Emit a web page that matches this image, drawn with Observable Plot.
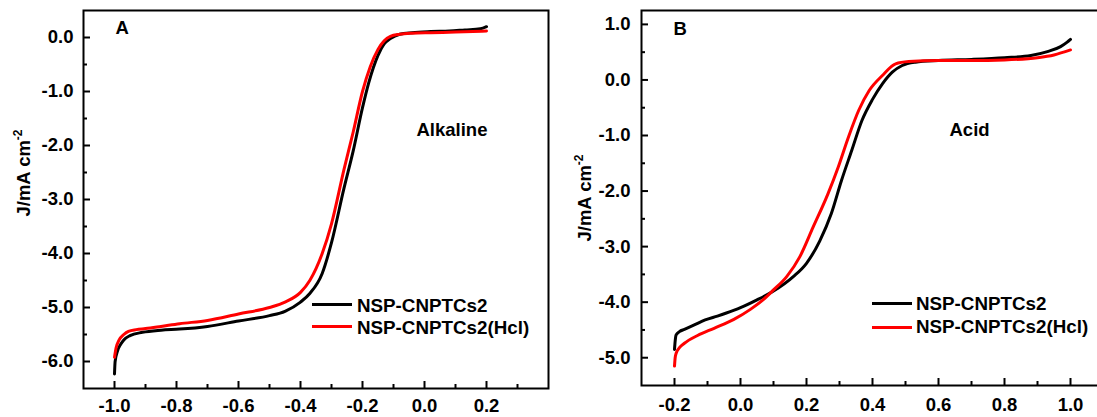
<!DOCTYPE html>
<html>
<head>
<meta charset="utf-8">
<script src="https://cdn.jsdelivr.net/npm/d3@7"></script>
<script src="https://cdn.jsdelivr.net/npm/@observablehq/plot@0.6"></script>
<style>
html, body { margin: 0; padding: 0; background: #fff; overflow: hidden; width: 1097px; height: 417px; }
#wrap { position: relative; width: 1097px; height: 417px; overflow: hidden; font-family: "Liberation Sans", Arial, sans-serif; font-weight: bold; color: #000; }
.panel { position: absolute; top: 0; }
.row { position: absolute; height: 20px; line-height: 20px; display: flex; align-items: center; font-size: 18.8px; white-space: nowrap; }
.sw { display: inline-block; width: 40px; height: 3px; margin-right: 5px; }
</style>
</head>
<body>
<div id="wrap">
  <div class="panel" id="pa" style="left:0px;width:560px;"></div>
  <div class="panel" id="pb" style="left:560px;width:550px;"></div>
  <div class="row" style="left:312px;top:296px;"><span class="sw" style="background:#000;transform:translateY(-2px)"></span><span>NSP-CNPTCs2</span></div>
  <div class="row" style="left:312px;top:318px;"><span class="sw" style="background:#ff0000;transform:translateY(-2px)"></span><span>NSP-CNPTCs2(Hcl)</span></div>
  <div class="row" style="left:872px;top:294px;"><span class="sw" style="background:#000;margin-right:4px;transform:translateY(-1px)"></span><span>NSP-CNPTCs2</span></div>
  <div class="row" style="left:872px;top:317px;"><span class="sw" style="background:#ff0000;margin-right:4px;"></span><span>NSP-CNPTCs2(Hcl)</span></div>
</div>
<script>
const seriesNames = ["NSP-CNPTCs2", "NSP-CNPTCs2(Hcl)"];
const yLabel = "J/mA cm";
const yLabelSup = "-2";

// ---------- Panel A (Alkaline) ----------
const blackA_x = [-1.0, -0.998, -0.99, -0.98, -0.97, -0.95, -0.91, -0.85, -0.79, -0.70, -0.60, -0.50, -0.45, -0.40, -0.37, -0.33, -0.30, -0.26, -0.23, -0.20, -0.18, -0.15, -0.13, -0.11, -0.08, -0.04, 0.02, 0.08, 0.13, 0.18, 0.2];
const blackA_y = [-6.23, -6.0, -5.8, -5.68, -5.6, -5.52, -5.46, -5.42, -5.40, -5.35, -5.25, -5.15, -5.07, -4.90, -4.74, -4.37, -3.80, -2.80, -2.10, -1.30, -0.84, -0.33, -0.12, -0.02, 0.06, 0.09, 0.11, 0.12, 0.14, 0.16, 0.2];
const redA_x = [-1.0, -0.995, -0.985, -0.97, -0.955, -0.93, -0.9, -0.85, -0.79, -0.70, -0.60, -0.50, -0.45, -0.40, -0.37, -0.33, -0.30, -0.26, -0.23, -0.20, -0.175, -0.15, -0.13, -0.11, -0.08, -0.04, 0.02, 0.1, 0.2];
const redA_y = [-5.92, -5.75, -5.6, -5.5, -5.44, -5.41, -5.39, -5.35, -5.30, -5.24, -5.12, -5.0, -4.9, -4.72, -4.5, -4.0, -3.45, -2.45, -1.75, -1.0, -0.54, -0.22, -0.06, 0.02, 0.06, 0.08, 0.09, 0.1, 0.12];
const xMajorA = [-1.0, -0.8, -0.6, -0.4, -0.2, 0.0, 0.2];
const xMinorA = [-0.9, -0.7, -0.5, -0.3, -0.1, 0.1, 0.3];
const yMajorA = [0, -1, -2, -3, -4, -5, -6];
const yMinorA = [-0.5, -1.5, -2.5, -3.5, -4.5, -5.5];

// ---------- Panel B (Acid) ----------
const blackB_x = [-0.2, -0.198, -0.195, -0.185, -0.17, -0.14, -0.107, -0.07, -0.045, 0.0, 0.05, 0.1, 0.16, 0.2, 0.24, 0.275, 0.306, 0.337, 0.368, 0.40, 0.43, 0.46, 0.49, 0.53, 0.6, 0.7, 0.8, 0.88, 0.93, 0.97, 0.99, 1.0];
const blackB_y = [-4.85, -4.7, -4.59, -4.53, -4.49, -4.41, -4.32, -4.25, -4.20, -4.10, -3.96, -3.80, -3.54, -3.30, -2.90, -2.41, -1.81, -1.27, -0.73, -0.35, -0.07, 0.14, 0.26, 0.32, 0.35, 0.37, 0.40, 0.44, 0.51, 0.60, 0.68, 0.73];
const redB_x = [-0.2, -0.198, -0.195, -0.185, -0.17, -0.13, -0.08, -0.02, 0.03, 0.07, 0.1, 0.14, 0.18, 0.22, 0.265, 0.296, 0.327, 0.358, 0.39, 0.43, 0.47, 0.51, 0.6, 0.7, 0.8, 0.9, 0.95, 1.0];
const redB_y = [-5.15, -5.0, -4.92, -4.82, -4.74, -4.6, -4.47, -4.31, -4.13, -3.95, -3.78, -3.54, -3.18, -2.65, -2.05, -1.57, -1.03, -0.55, -0.19, 0.08, 0.29, 0.33, 0.35, 0.35, 0.36, 0.40, 0.45, 0.54];
const xMajorB = [-0.2, 0.0, 0.2, 0.4, 0.6, 0.8, 1.0];
const xMinorB = [-0.1, 0.1, 0.3, 0.5, 0.7, 0.9, 1.1];
const yMajorB = [1, 0, -1, -2, -3, -4, -5];
const yMinorB = [0.5, -0.5, -1.5, -2.5, -3.5, -4.5];

const FONT = "'Liberation Sans', Arial, sans-serif";
const FS = 18.5;
const fmt = d => d.toFixed(1);
const zip = (xs, ys) => xs.map((x, i) => ({x, y: ys[i]}));

function panel(o) {
  const innerH = o.height - o.marginTop - o.marginBottom;
  const innerW = o.width - o.marginLeft - o.marginRight;
  const chart = Plot.plot({
    width: o.width, height: o.height,
    marginLeft: o.marginLeft, marginRight: o.marginRight, marginTop: o.marginTop, marginBottom: o.marginBottom,
    x: {domain: o.xDomain},
    y: {domain: o.yDomain},
    style: {fontFamily: FONT, fontSize: FS + "px", fontWeight: "bold", background: "transparent", color: "#000", overflow: "visible"},
    marks: [
      Plot.axisX(o.xMajor, {tickSize: 0, tickPadding: o.xPad, tickFormat: fmt, label: null, fontSize: FS, fontWeight: "bold"}),
      Plot.axisY(o.yMajor, {tickSize: 0, tickPadding: o.yPad, tickFormat: fmt, label: null, fontSize: FS, fontWeight: "bold"}),
      Plot.tickX(o.xMajor, {x: d => d, insetTop: innerH - 7, stroke: "#000", strokeWidth: 2}),
      Plot.tickX(o.xMinor, {x: d => d, insetTop: innerH - 4, stroke: "#000", strokeWidth: 2}),
      Plot.tickY(o.yMajor, {y: d => d, insetRight: innerW - 7, stroke: "#000", strokeWidth: 2}),
      Plot.tickY(o.yMinor, {y: d => d, insetRight: innerW - 4, stroke: "#000", strokeWidth: 2}),
      Plot.line(zip(o.bx, o.by), {x: "x", y: "y", stroke: "#000", strokeWidth: 3, curve: "monotone-x"}),
      Plot.line(zip(o.rx, o.ry), {x: "x", y: "y", stroke: "#ff0000", strokeWidth: 3, curve: "monotone-x"}),
      Plot.frame({stroke: "#000", strokeWidth: 2}),
      Plot.text([o.letter], {frameAnchor: "top-left", dx: o.letterDx, dy: o.letterDy, textAnchor: "start", lineAnchor: "middle", fontSize: 18.5, fontWeight: "bold", fill: "#000"}),
      Plot.text([o.cond], {frameAnchor: "top-left", dx: o.condDx, dy: o.condDy, textAnchor: "start", lineAnchor: "middle", fontSize: 18.5, fontWeight: "bold", fill: "#000"})
    ]
  });
  const t = d3.select(chart).append("text")
    .attr("transform", `translate(${o.labelX},${o.labelY}) rotate(-90)`)
    .attr("text-anchor", "middle")
    .attr("fill", "#000")
    .style("font-family", FONT).style("font-size", "18.5px").style("font-weight", "bold");
  t.append("tspan").text(yLabel);
  t.append("tspan").attr("dy", -8).style("font-size", "12px").text(yLabelSup);
  return chart;
}

document.getElementById("pa").appendChild(panel({
  width: 560, height: 417, marginLeft: 83, marginRight: 12, marginTop: 10, marginBottom: 29,
  xDomain: [-1.1, 0.4], yDomain: [-6.5, 0.5],
  xMajor: xMajorA, xMinor: xMinorA, yMajor: yMajorA, yMinor: yMinorA,
  xPad: 10, yPad: 10,
  bx: blackA_x, by: blackA_y, rx: redA_x, ry: redA_y,
  letter: "A", letterDx: 32, letterDy: 18,
  cond: "Alkaline", condDx: 333, condDy: 120,
  labelX: 30, labelY: 173
}));

document.getElementById("pb").appendChild(panel({
  width: 550, height: 417, marginLeft: 81, marginRight: 7, marginTop: 10, marginBottom: 32,
  xDomain: [-0.3, 1.1], yDomain: [-5.5, 1.25],
  xMajor: xMajorB, xMinor: xMinorB, yMajor: yMajorB, yMinor: yMinorB,
  xPad: 12.5, yPad: 11,
  bx: blackB_x, by: blackB_y, rx: redB_x, ry: redB_y,
  letter: "B", letterDx: 32, letterDy: 19,
  cond: "Acid", condDx: 308, condDy: 119.5,
  labelX: 31, labelY: 198
}));
</script>
</body>
</html>
